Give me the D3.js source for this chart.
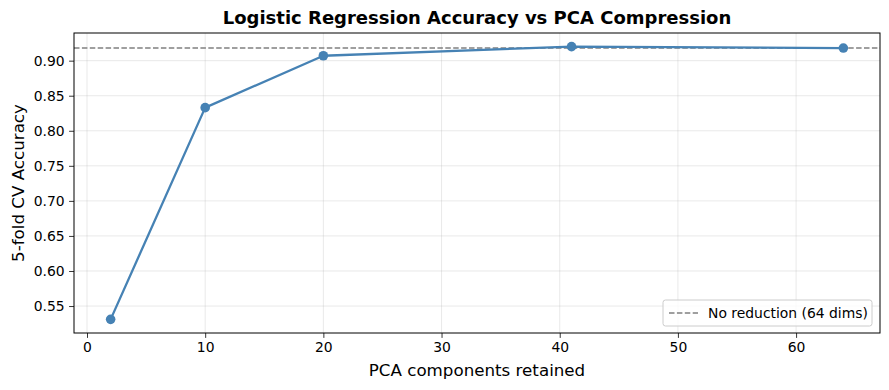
<!DOCTYPE html>
<html>
<head>
<meta charset="utf-8">
<script src="https://cdn.jsdelivr.net/npm/d3@7"></script>
<style>
  body { margin: 0; background: #fff; }
  svg { display: block; font-family: "DejaVu Sans", sans-serif; }
</style>
</head>
<body>
<svg id="chart" width="889" height="390"></svg>
<script>
const components = [2, 10, 20, 41, 64];
const accuracy = [0.531, 0.833, 0.907, 0.920, 0.918];
const baselineAccuracy = 0.918;
const baselineLabel = "No reduction (64 dims)";
const xTicks = [0, 10, 20, 30, 40, 50, 60];
const yTicks = [0.55, 0.60, 0.65, 0.70, 0.75, 0.80, 0.85, 0.90];
const title = "Logistic Regression Accuracy vs PCA Compression";
const xLabel = "PCA components retained";
const yLabel = "5-fold CV Accuracy";

const svg = d3.select("#chart");
const m = { left: 74, right: 880, top: 33, bottom: 333 };

const xMin = d3.min(components), xMax = d3.max(components);
const xPad = (xMax - xMin) * 0.05;
const yMin = d3.min(accuracy), yMax = d3.max(accuracy);
const yPad = (yMax - yMin) * 0.05;

const x = d3.scaleLinear().domain([xMin - xPad, xMax + xPad]).range([m.left, m.right]);
const y = d3.scaleLinear().domain([yMin - yPad, yMax + yPad]).range([m.bottom, m.top]);

// grid
const grid = svg.append("g");
grid.selectAll(".gx").data(xTicks).join("line")
  .attr("x1", d => x(d)).attr("x2", d => x(d))
  .attr("y1", m.top).attr("y2", m.bottom)
  .attr("stroke", "#b0b0b0").attr("stroke-opacity", 0.35).attr("stroke-width", 0.8);
grid.selectAll(".gy").data(yTicks).join("line")
  .attr("x1", m.left).attr("x2", m.right)
  .attr("y1", d => y(d)).attr("y2", d => y(d))
  .attr("stroke", "#b0b0b0").attr("stroke-opacity", 0.35).attr("stroke-width", 0.8);

// axes
const xAxis = d3.axisBottom(x).tickValues(xTicks).tickFormat(d3.format("d")).tickSize(4.9).tickPadding(4.5);
const yAxis = d3.axisLeft(y).tickValues(yTicks).tickFormat(d3.format(".2f")).tickSize(4.9).tickPadding(4.5);

const gx = svg.append("g").attr("transform", `translate(0,${m.bottom})`).call(xAxis);
const gy = svg.append("g").attr("transform", `translate(${m.left},0)`).call(yAxis);
[gx, gy].forEach(g => {
  g.select(".domain").remove();
  g.selectAll(".tick line").attr("stroke", "#000").attr("stroke-width", 0.8);
  g.selectAll(".tick text").attr("fill", "#000").attr("font-size", "13.9px")
    .attr("font-family", "DejaVu Sans, sans-serif");
});

// baseline dashed line
svg.append("line")
  .attr("x1", m.left).attr("x2", m.right)
  .attr("y1", y(baselineAccuracy)).attr("y2", y(baselineAccuracy))
  .attr("stroke", "#808080").attr("stroke-width", 1.5)
  .attr("stroke-dasharray", "5.5,2.4");

// data line
const pts = components.map((c, i) => [c, accuracy[i]]);
svg.append("path").datum(pts)
  .attr("fill", "none").attr("stroke", "#4682b4").attr("stroke-width", 2.3)
  .attr("stroke-linejoin", "round")
  .attr("d", d3.line().x(d => x(d[0])).y(d => y(d[1])));
svg.selectAll(".pt").data(pts).join("circle")
  .attr("cx", d => x(d[0])).attr("cy", d => y(d[1])).attr("r", 4.8)
  .attr("fill", "#4682b4");

// frame
svg.append("rect")
  .attr("x", m.left).attr("y", m.top)
  .attr("width", m.right - m.left).attr("height", m.bottom - m.top)
  .attr("fill", "none").attr("stroke", "#000").attr("stroke-width", 1);

// title & labels
svg.append("text").attr("x", (m.left + m.right) / 2).attr("y", 24)
  .attr("text-anchor", "middle").attr("font-weight", "bold").attr("font-size", "18px")
  .text(title);
svg.append("text").attr("x", (m.left + m.right) / 2).attr("y", 376)
  .attr("text-anchor", "middle").attr("font-size", "16.7px").text(xLabel);
svg.append("text").attr("transform", `translate(24,${(m.top + m.bottom) / 2}) rotate(-90)`)
  .attr("text-anchor", "middle").attr("font-size", "16.7px").text(yLabel);

// legend
const lg = svg.append("g");
const lx = 663, ly = 300, lw = 209, lh = 26;
lg.append("rect").attr("x", lx).attr("y", ly).attr("width", lw).attr("height", lh)
  .attr("rx", 2.5).attr("fill", "#fff").attr("fill-opacity", 0.8)
  .attr("stroke", "#cccccc").attr("stroke-width", 1);
lg.append("line").attr("x1", lx + 6).attr("x2", lx + 35)
  .attr("y1", ly + lh / 2).attr("y2", ly + lh / 2)
  .attr("stroke", "#808080").attr("stroke-width", 1.5).attr("stroke-dasharray", "5.5,2.4");
lg.append("text").attr("x", lx + 45).attr("y", ly + lh / 2 + 5)
  .attr("font-size", "13.9px").text(baselineLabel);
</script>
</body>
</html>
